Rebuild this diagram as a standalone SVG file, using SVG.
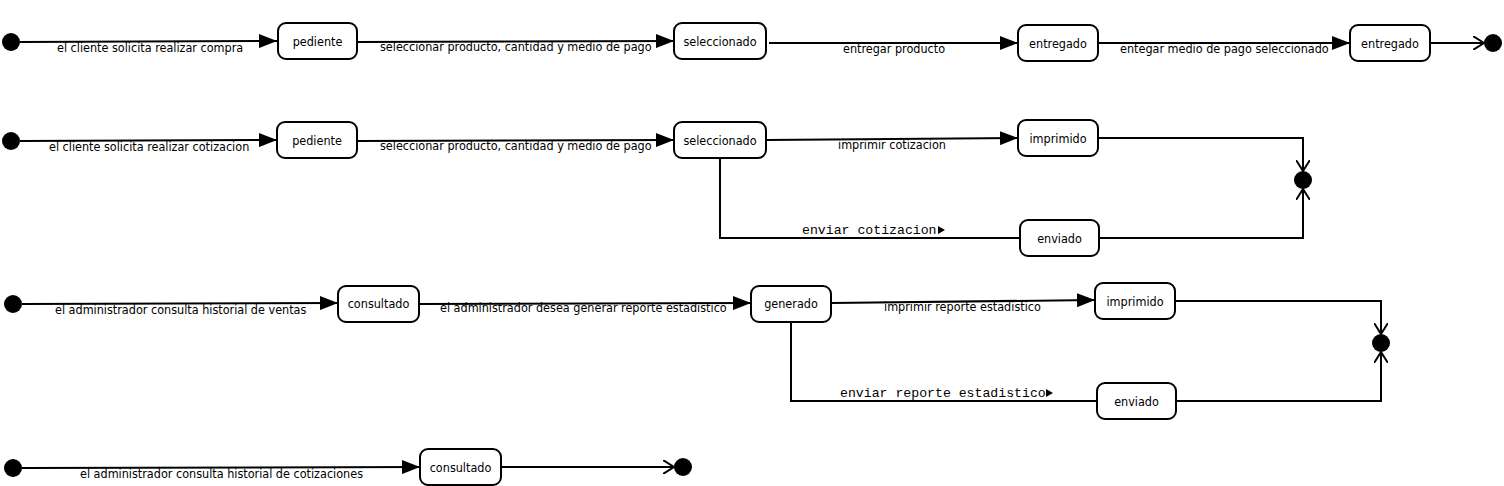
<svg xmlns="http://www.w3.org/2000/svg" width="1504" height="486" viewBox="0 0 1504 486">
<defs>
<marker id="tri" viewBox="0 0 18 14" refX="18" refY="7" markerWidth="18" markerHeight="14" markerUnits="userSpaceOnUse" orient="auto">
<path d="M0,0 L18,7 L0,14 Z" fill="#000"/>
</marker>
<marker id="open" viewBox="0 0 12 14" refX="11" refY="7" markerWidth="12" markerHeight="14" markerUnits="userSpaceOnUse" orient="auto">
<path d="M0,0 L11,7 L0,14" fill="none" stroke="#000" stroke-width="2"/>
</marker>
</defs>
<style>
.st rect{fill:#fff;stroke:#000;stroke-width:2}
.st text{font-family:"DejaVu Sans Condensed","DejaVu Sans",sans-serif;font-stretch:condensed;font-size:12.5px;text-anchor:middle;fill:#000}
.pt circle{fill:#000}
.cn path{fill:none;stroke:#000;stroke-width:2}
.lb{font-family:"DejaVu Sans Condensed","DejaVu Sans",sans-serif;font-stretch:condensed;font-size:12.5px;fill:#000}
.mono{font-family:"Liberation Mono",monospace;font-size:13.2px;fill:#000}
.a{marker-end:url(#tri)}
.o{marker-end:url(#open)}
</style>
<rect width="1504" height="486" fill="#fff"/>
<g class="cn" id="connectors">
<path class="a" d="M20,42 L277,41"/>
<path class="a" d="M357,42 L674,41"/>
<path class="a" d="M769,43 L1018,43"/>
<path class="a" d="M1098,43 L1350,43"/>
<path class="o" d="M1430,43 L1484,43"/>
<path class="a" d="M20,141 L277,140"/>
<path class="a" d="M357,141 L674,140"/>
<path class="a" d="M766,140 L1018,138"/>
<path class="o" d="M1098,138 L1303,138 L1303,171"/>
<path d="M720,158 L720,238 L1020,238"/>
<path class="o" d="M1099,238 L1303,238 L1303,189"/>
<path class="a" d="M22,304 L338,303"/>
<path class="a" d="M419,304 L751,303"/>
<path class="a" d="M831,303 L1095,300"/>
<path class="o" d="M1175,301 L1381,301 L1381,334"/>
<path d="M791,322 L791,401 L1097,401"/>
<path class="o" d="M1176,401 L1381,401 L1381,352"/>
<path class="a" d="M22,468 L420,467"/>
<path class="o" d="M501,467 L674,467"/>
</g>
<g id="labels">
<text class="lb" x="57" y="52">el cliente solicita realizar compra</text>
<text class="lb" x="380" y="51">seleccionar producto, cantidad y medio de pago</text>
<text class="lb" x="843" y="53">entregar producto</text>
<text class="lb" x="1120" y="53">entegar medio de pago seleccionado</text>
<text class="lb" x="49" y="151">el cliente solicita realizar cotizacion</text>
<text class="lb" x="380" y="150">seleccionar producto, cantidad y medio de pago</text>
<text class="lb" x="838" y="149">imprimir cotizacion</text>
<text class="mono" x="802" y="234">enviar cotizacion</text>
<path d="M938,226 L945,230 L938,234 Z" fill="#000"/>
<text class="lb" x="55" y="314">el administrador consulta historial de ventas</text>
<text class="lb" x="440" y="312">el administrador desea generar reporte estadistico</text>
<text class="lb" x="884" y="311">imprimir reporte estadistico</text>
<text class="mono" x="840" y="397">enviar reporte estadistico</text>
<path d="M1046,389 L1053,393 L1046,397 Z" fill="#000"/>
<text class="lb" x="80" y="478">el administrador consulta historial de cotizaciones</text>
</g>
<g class="pt" id="start1"><circle cx="11" cy="42" r="9"/></g>
<g class="pt" id="end1"><circle cx="1493" cy="43" r="9"/></g>
<g class="pt" id="start2"><circle cx="11" cy="141" r="9"/></g>
<g class="pt" id="end2"><circle cx="1303" cy="180" r="9"/></g>
<g class="pt" id="start3"><circle cx="13" cy="304" r="9"/></g>
<g class="pt" id="end3"><circle cx="1381" cy="343" r="9"/></g>
<g class="pt" id="start4"><circle cx="13" cy="468" r="9"/></g>
<g class="pt" id="end4"><circle cx="683" cy="467" r="9"/></g>
<g class="st" id="pediente1"><rect x="278" y="23" width="79" height="36" rx="8"/><text x="317.5" y="46">pediente</text></g>
<g class="st" id="seleccionado1"><rect x="674" y="23" width="92" height="36" rx="8"/><text x="720" y="46">seleccionado</text></g>
<g class="st" id="entregado1"><rect x="1018" y="25" width="80" height="36" rx="8"/><text x="1058" y="48">entregado</text></g>
<g class="st" id="entregado2"><rect x="1350" y="25" width="80" height="36" rx="8"/><text x="1390" y="48">entregado</text></g>
<g class="st" id="pediente2"><rect x="277" y="122" width="80" height="36" rx="8"/><text x="317" y="145">pediente</text></g>
<g class="st" id="seleccionado2"><rect x="674" y="122" width="92" height="36" rx="8"/><text x="720" y="145">seleccionado</text></g>
<g class="st" id="imprimido1"><rect x="1018" y="120" width="80" height="36" rx="8"/><text x="1058" y="143">imprimido</text></g>
<g class="st" id="enviado1"><rect x="1020" y="220" width="79" height="36" rx="8"/><text x="1059.5" y="243">enviado</text></g>
<g class="st" id="consultado1"><rect x="338" y="286" width="81" height="36" rx="8"/><text x="378.5" y="308">consultado</text></g>
<g class="st" id="generado"><rect x="751" y="286" width="80" height="36" rx="8"/><text x="791" y="308">generado</text></g>
<g class="st" id="imprimido2"><rect x="1095" y="283" width="80" height="36" rx="8"/><text x="1135" y="306">imprimido</text></g>
<g class="st" id="enviado2"><rect x="1097" y="383" width="79" height="36" rx="8"/><text x="1136.5" y="406">enviado</text></g>
<g class="st" id="consultado2"><rect x="420" y="449" width="81" height="36" rx="8"/><text x="460.5" y="472">consultado</text></g>
</svg>
